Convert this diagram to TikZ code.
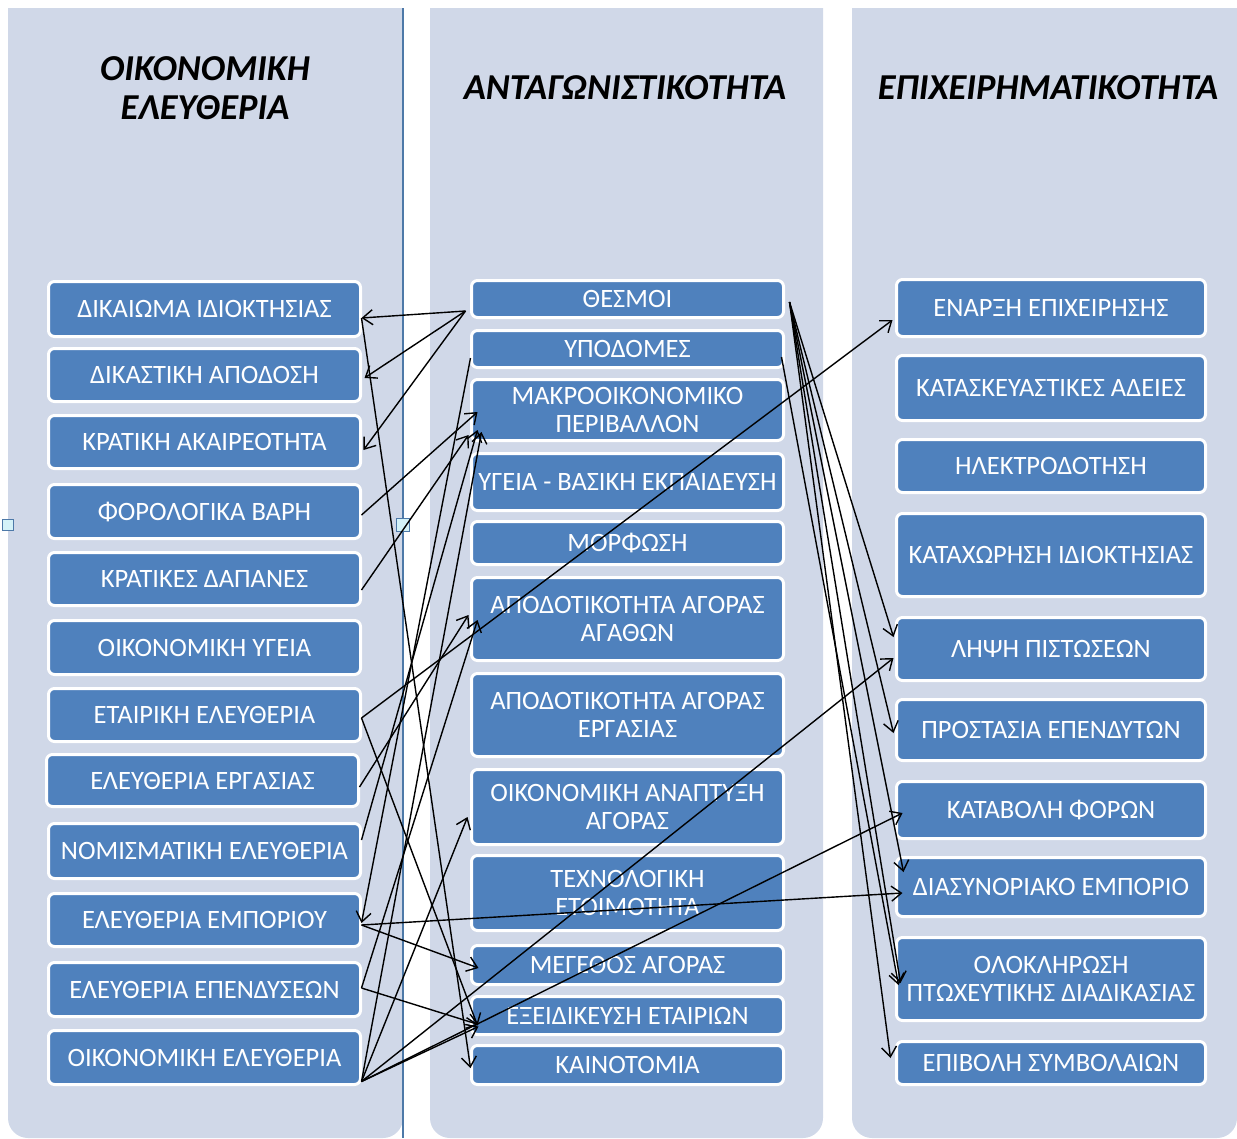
\documentclass[tikz,border=0pt]{standalone}
\usepackage{fontspec}
\setmainfont{Carlito}
\usetikzlibrary{arrows.meta,calc}
\definecolor{panelc}{HTML}{D0D8E8}
\definecolor{boxc}{HTML}{4F81BD}
\definecolor{vlinec}{HTML}{4D79A8}
\definecolor{handlec}{HTML}{D4F2F8}
\begin{document}
\begin{tikzpicture}[x=1pt,y=-1pt,
  box/.style={draw=white,line width=3pt,fill=boxc,rounded corners=6pt,text=white,
    font=\fontsize{26.5}{28}\selectfont,align=center,inner sep=0pt,outer sep=0pt},
  lbox/.style={box,minimum width=312pt},
  mbox/.style={box,minimum width=312pt},
  rbox/.style={box,minimum width=309pt},
  title/.style={font=\fontsize{36.5}{39}\selectfont\bfseries\itshape,align=center,inner sep=0pt},
  arr/.style={-{Straight Barb[length=10pt,width=15pt,line width=1.4pt]},line width=1.4pt,black},
  panel/.style={fill=panelc}
]
\useasboundingbox (0,0) rectangle (1237,1138);
% panels
\begin{scope}
\clip (0,8) rectangle (1237,1138);
\fill[panel,rounded corners=20pt] (8,-40) rectangle (403,1138);
\fill[panel,rounded corners=20pt] (430,-40) rectangle (823,1138);
\fill[panel,rounded corners=20pt] (852,-40) rectangle (1237,1138);
\end{scope}
\draw[vlinec,line width=2pt] (403,8) -- (403,1138);
\node[draw=vlinec,fill=handlec,line width=1pt,minimum size=13pt,inner sep=0pt] (h1) at (403,525) {};
\node[draw=vlinec,fill=handlec,line width=1pt,minimum size=11pt,inner sep=0pt] (h2) at (8,525) {};

% titles
\node[title] (T1) at (205,88) {ΟΙΚΟΝΟΜΙΚΗ\\ΕΛΕΥΘΕΡΙΑ};
\node[title] (T2) at (625,88) {ΑΝΤΑΓΩΝΙΣΤΙΚΟΤΗΤΑ};
\node[title] (T3) at (1048,88) {ΕΠΙΧΕΙΡΗΜΑΤΙΚΟΤΗΤΑ};

% left column
\node[lbox,minimum height=55pt] (L1) at (204.5,309) {ΔΙΚΑΙΩΜΑ ΙΔΙΟΚΤΗΣΙΑΣ};
\node[lbox,minimum height=53pt] (L2) at (204.5,375) {ΔΙΚΑΣΤΙΚΗ ΑΠΟΔΟΣΗ};
\node[lbox,minimum height=53pt] (L3) at (204.5,442) {ΚΡΑΤΙΚΗ ΑΚΑΙΡΕΟΤΗΤΑ};
\node[lbox,minimum height=54pt] (L4) at (204.5,511.5) {ΦΟΡΟΛΟΓΙΚΑ ΒΑΡΗ};
\node[lbox,minimum height=53pt] (L5) at (204.5,579) {ΚΡΑΤΙΚΕΣ ΔΑΠΑΝΕΣ};
\node[lbox,minimum height=54pt] (L6) at (204.5,647.5) {ΟΙΚΟΝΟΜΙΚΗ ΥΓΕΙΑ};
\node[lbox,minimum height=53pt] (L7) at (204.5,715) {ΕΤΑΙΡΙΚΗ ΕΛΕΥΘΕΡΙΑ};
\node[lbox,minimum height=52pt] (L8) at (202.5,780.5) {ΕΛΕΥΘΕΡΙΑ ΕΡΓΑΣΙΑΣ};
\node[lbox,minimum height=55pt] (L9) at (204.5,851) {ΝΟΜΙΣΜΑΤΙΚΗ ΕΛΕΥΘΕΡΙΑ};
\node[lbox,minimum height=53pt] (L10) at (204.5,920) {ΕΛΕΥΘΕΡΙΑ ΕΜΠΟΡΙΟΥ};
\node[lbox,minimum height=54pt] (L11) at (204.5,989.5) {ΕΛΕΥΘΕΡΙΑ ΕΠΕΝΔΥΣΕΩΝ};
\node[lbox,minimum height=54pt] (L12) at (204.5,1057.5) {ΟΙΚΟΝΟΜΙΚΗ ΕΛΕΥΘΕΡΙΑ};

% middle column
\node[mbox,minimum height=37pt] (M1) at (627.5,299) {ΘΕΣΜΟΙ};
\node[mbox,minimum height=37pt] (M2) at (627.5,349) {ΥΠΟΔΟΜΕΣ};
\node[mbox,minimum height=61pt] (M3) at (627.5,410) {ΜΑΚΡΟΟΙΚΟΝΟΜΙΚΟ\\ΠΕΡΙΒΑΛΛΟΝ};
\node[mbox,minimum height=57pt] (M4) at (627.5,482) {ΥΓΕΙΑ - ΒΑΣΙΚΗ ΕΚΠΑΙΔΕΥΣΗ};
\node[mbox,minimum height=43pt] (M5) at (627.5,543) {ΜΟΡΦΩΣΗ};
\node[mbox,minimum height=83pt] (M6) at (627.5,619) {ΑΠΟΔΟΤΙΚΟΤΗΤΑ ΑΓΟΡΑΣ\\ΑΓΑΘΩΝ};
\node[mbox,minimum height=83pt] (M7) at (627.5,715) {ΑΠΟΔΟΤΙΚΟΤΗΤΑ ΑΓΟΡΑΣ\\ΕΡΓΑΣΙΑΣ};
\node[mbox,minimum height=75pt] (M8) at (627.5,807) {ΟΙΚΟΝΟΜΙΚΗ ΑΝΑΠΤΥΞΗ\\ΑΓΟΡΑΣ};
\node[mbox,minimum height=75pt] (M9) at (627.5,893) {ΤΕΧΝΟΛΟΓΙΚΗ\\ΕΤΟΙΜΟΤΗΤΑ};
\node[mbox,minimum height=39pt] (M10) at (627.5,965) {ΜΕΓΕΘΟΣ ΑΓΟΡΑΣ};
\node[mbox,minimum height=38pt] (M11) at (627.5,1015.5) {ΕΞΕΙΔΙΚΕΥΣΗ ΕΤΑΙΡΙΩΝ};
\node[mbox,minimum height=39pt] (M12) at (627.5,1065) {ΚΑΙΝΟΤΟΜΙΑ};

% right column
\node[rbox,minimum height=57pt] (R1) at (1051,308) {ΕΝΑΡΞΗ ΕΠΙΧΕΙΡΗΣΗΣ};
\node[rbox,minimum height=65pt] (R2) at (1051,388) {ΚΑΤΑΣΚΕΥΑΣΤΙΚΕΣ ΑΔΕΙΕΣ};
\node[rbox,minimum height=53pt] (R3) at (1051,466) {ΗΛΕΚΤΡΟΔΟΤΗΣΗ};
\node[rbox,minimum height=83pt] (R4) at (1051,555) {ΚΑΤΑΧΩΡΗΣΗ ΙΔΙΟΚΤΗΣΙΑΣ};
\node[rbox,minimum height=63pt] (R5) at (1051,649) {ΛΗΨΗ ΠΙΣΤΩΣΕΩΝ};
\node[rbox,minimum height=61pt] (R6) at (1051,730) {ΠΡΟΣΤΑΣΙΑ ΕΠΕΝΔΥΤΩΝ};
\node[rbox,minimum height=57pt] (R7) at (1051,810) {ΚΑΤΑΒΟΛΗ ΦΟΡΩΝ};
\node[rbox,minimum height=59pt] (R8) at (1051,887) {ΔΙΑΣΥΝΟΡΙΑΚΟ ΕΜΠΟΡΙΟ};
\node[rbox,minimum height=83pt] (R9) at (1051,979) {ΟΛΟΚΛΗΡΩΣΗ\\ΠΤΩΧΕΥΤΙΚΗΣ ΔΙΑΔΙΚΑΣΙΑΣ};
\node[rbox,minimum height=43pt] (R10) at (1051,1063) {ΕΠΙΒΟΛΗ ΣΥΜΒΟΛΑΙΩΝ};

% connectors, left gap
\draw[arr] ($(M1.west)+(-6,12)$) -- ($(L1.east)+(1,9)$);
\draw[arr] ($(M1.west)+(-6,12)$) -- ($(L2.east)+(4,3)$);
\draw[arr] ($(M1.west)+(-6,12)$) -- ($(L3.east)+(3,8)$);
\draw[arr] ($(L1.east)+(1,9)$) -- ($(M12.west)+(-1,3)$);
\draw[arr] ($(L4.east)+(1,3.5)$) -- ($(M3.west)+(6,2)$);
\draw[arr] ($(L5.east)+(1,11)$) -- ($(M3.west)+(-3,25)$);
\draw[arr] ($(L9.east)+(1,-11)$) -- ($(M3.west)+(6,20)$);
\draw[arr] ($(L12.east)+(1,24)$) -- ($(M3.west)+(10,22)$);
\draw[arr] ($(L7.east)+(1,3)$) -- ($(R1.west)+(-4,12)$);
\draw[arr] ($(L7.east)+(1,3)$) -- ($(M11.west)+(6,10)$);
\draw[arr] ($(L8.east)+(1,6.5)$) -- ($(M6.west)+(-3,-4)$);
\draw[arr] ($(M2.west)+(-1,9)$) -- ($(L10.east)+(1,3)$);
\draw[arr] ($(L10.east)+(1,5)$) -- ($(M10.west)+(7,3)$);
\draw[arr] ($(L10.east)+(1,5)$) -- ($(R8.west)+(6,6)$);
\draw[arr] ($(L11.east)+(1,-1.5)$) -- ($(M6.west)+(6,1)$);
\draw[arr] ($(L11.east)+(1,-1.5)$) -- ($(M11.west)+(7,9)$);
\draw[arr] ($(L12.east)+(1,24)$) -- ($(M8.west)+(-4,10)$);
\draw[arr] ($(L12.east)+(1,24)$) -- ($(M11.west)+(7,11)$);
\draw[arr] ($(L12.east)+(1,24)$) -- ($(R5.west)+(-3,9)$);
\draw[arr] ($(L12.east)+(1,24)$) -- ($(R7.west)+(6,3)$);
% connectors, right gap
\draw[arr] ($(M1.east)+(6,3)$) -- ($(R5.west)+(-3,-12)$);
\draw[arr] ($(M1.east)+(6,3)$) -- ($(R6.west)+(-3,3)$);
\draw[arr] ($(M1.east)+(6,3)$) -- ($(R8.west)+(7,-15)$);
\draw[arr] ($(M1.east)+(6,3)$) -- ($(R9.west)+(4,4)$);
\draw[arr] ($(M1.east)+(6,3)$) -- ($(R10.west)+(-6,-5)$);
\draw[arr] ($(M2.east)+(-2,8)$) -- ($(R9.west)+(2,6)$);
\end{tikzpicture}
\end{document}
